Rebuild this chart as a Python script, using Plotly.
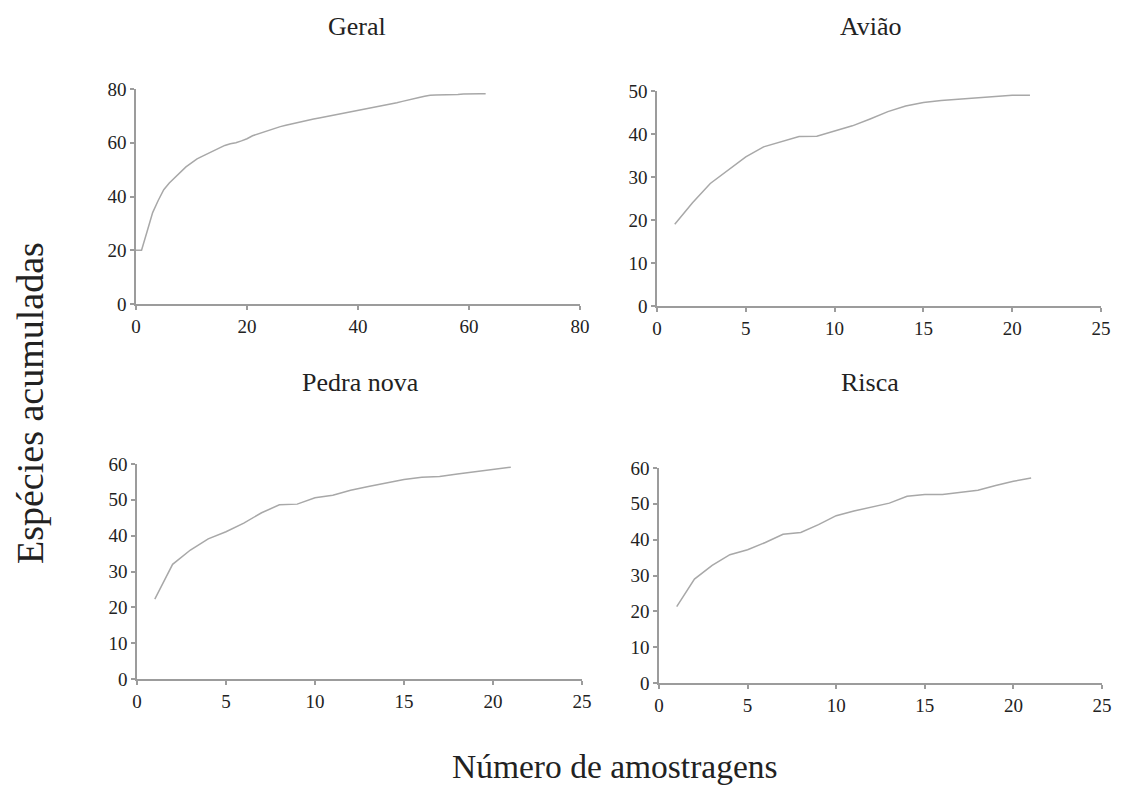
import plotly.graph_objects as go

# Data
geral_x = list(range(0, 64))
geral_y = [20, 20, 27, 34, 38.5, 42.5, 45, 47, 49.2, 51, 52.5, 54, 55, 56, 57.2, 58.3,
           59, 59.6, 60, 60.7, 61.5, 62.6, 63.3, 64, 64.8, 65.5, 66, 66.5, 67, 67.5,
           67.9, 68.3, 68.8, 69.2, 69.6, 70, 70.2, 70.6, 71.1, 71.5, 71.9, 72.3, 72.7,
           73.2, 73.6, 74, 74.4, 74.9, 75.4, 75.8, 76.3, 76.8, 77.3, 77.7, 77.8, 77.8,
           77.9, 78, 78, 78.1, 78.2, 78.2, 78.2, 78.2]

site_x = list(range(1, 22))
aviao_y = [19, 24, 28.5, 31.6, 34.7, 37, 38.2, 39.4, 39.5, 40.7, 41.9, 43.5, 45.2,
           46.5, 47.3, 47.8, 48.1, 48.5, 48.8, 49, 49]
pedra_y = [22.3, 32, 36, 39.1, 41.1, 43.5, 46.4, 48.6, 48.8, 50.6, 51.3, 52.7, 53.7,
           54.8, 55.7, 56.3, 56.5, 57.2, 57.8, 58.3, 59.1]
risca_y = [21.3, 29, 32.8, 35.8, 37.2, 39.2, 41.5, 42, 44.2, 46.7, 48, 49, 50.2,
           52.1, 52.6, 52.6, 53.2, 53.8, 55.1, 56.3, 57.2]

titles = ["Geral", "Avião", "Pedra nova", "Risca"]
x_ticks_geral = [0, 20, 40, 60, 80]
x_ticks_site = [0, 5, 10, 15, 20, 25]

# page has an 8px body margin; figure sized to fit the 1132x794 window
OFF = 8
W, H = 1132 - 2 * OFF, 794 - 2 * OFF
FONT = "Liberation Serif"
LINE = "#a8a8a8"
AX = "#9c9c9c"

def px2dom_x(a, b):
    return [(a - OFF) / W, (b - OFF) / W]

def px2dom_y(top, bottom):
    return [1 - (bottom - OFF) / H, 1 - (top - OFF) / H]

def pt(x, y):
    return (x - OFF) / W, 1 - (y - OFF) / H

panels = [
    dict(x=geral_x, y=geral_y, xd=px2dom_x(136, 580), yd=px2dom_y(89, 304),
         xr=[0, 80], yr=[0, 80], xt=x_ticks_geral, yt=[0, 20, 40, 60, 80]),
    dict(x=site_x, y=aviao_y, xd=px2dom_x(657, 1101), yd=px2dom_y(91, 306),
         xr=[0, 25], yr=[0, 50], xt=x_ticks_site, yt=[0, 10, 20, 30, 40, 50]),
    dict(x=site_x, y=pedra_y, xd=px2dom_x(137, 582), yd=px2dom_y(464, 679),
         xr=[0, 25], yr=[0, 60], xt=x_ticks_site, yt=[0, 10, 20, 30, 40, 50, 60]),
    dict(x=site_x, y=risca_y, xd=px2dom_x(659, 1102), yd=px2dom_y(468, 683),
         xr=[0, 25], yr=[0, 60], xt=x_ticks_site, yt=[0, 10, 20, 30, 40, 50, 60]),
]

fig = go.Figure()
layout = dict(
    template="none",
    width=W, height=H,
    margin=dict(l=0, r=0, t=0, b=0, pad=0, autoexpand=False),
    paper_bgcolor="white", plot_bgcolor="white",
    showlegend=False,
    font=dict(family=FONT, color="#222222", size=19),
)

for i, p in enumerate(panels):
    n = "" if i == 0 else str(i + 1)
    fig.add_trace(go.Scatter(x=p["x"], y=p["y"], mode="lines",
                             line=dict(color=LINE, width=1.5),
                             xaxis="x" + n, yaxis="y" + n, hoverinfo="skip"))
    common = dict(showgrid=False, zeroline=False, automargin=False,
                  showline=True, linecolor=AX, linewidth=1.5,
                  ticks="outside", ticklen=4, tickcolor=AX, tickwidth=1.5,
                  tickfont=dict(family=FONT, size=19, color="#222222"))
    layout["xaxis" + n] = dict(domain=p["xd"], range=p["xr"], anchor="y" + n,
                               tickvals=p["xt"], **common)
    layout["yaxis" + n] = dict(domain=p["yd"], range=p["yr"], anchor="x" + n,
                               tickvals=p["yt"], **common)

fig.update_layout(**layout)

title_pos = [(357, 27), (871, 27), (360, 382), (870, 382)]
for t, (tx, ty) in zip(titles, title_pos):
    ax_, ay_ = pt(tx, ty)
    fig.add_annotation(text=t, x=ax_, y=ay_, xref="paper", yref="paper",
                       showarrow=False, xanchor="center", yanchor="middle",
                       font=dict(family=FONT, size=26, color="#222222"))

ax_, ay_ = pt(30, 403)
fig.add_annotation(text="Espécies acumuladas", x=ax_, y=ay_,
                   xref="paper", yref="paper", showarrow=False, textangle=-90,
                   xanchor="center", yanchor="middle",
                   font=dict(family=FONT, size=38, color="#222222"))
ax_, ay_ = pt(615, 766)
fig.add_annotation(text="Número de amostragens", x=ax_, y=ay_,
                   xref="paper", yref="paper", showarrow=False,
                   xanchor="center", yanchor="middle",
                   font=dict(family=FONT, size=33.5, color="#222222"))

fig.write_html("out.html")
